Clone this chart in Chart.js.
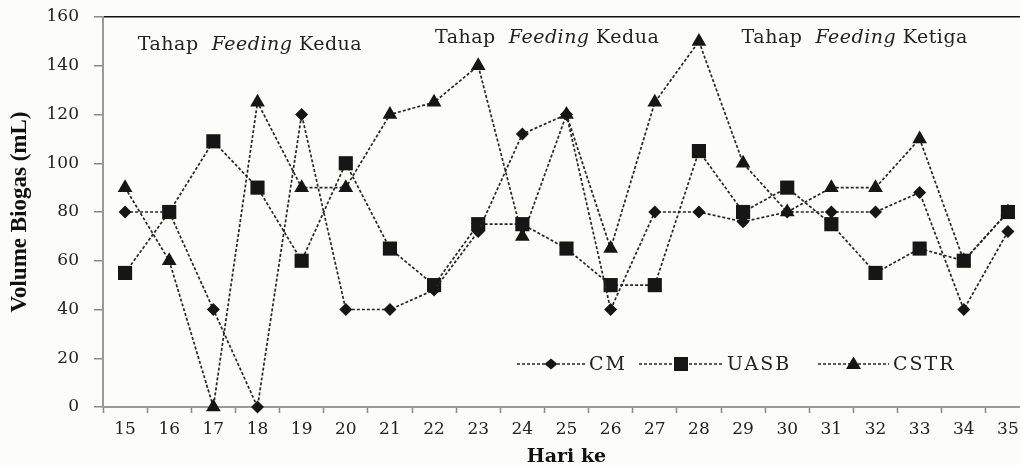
<!DOCTYPE html>
<html>
<head>
<meta charset="utf-8">
<script src="https://cdn.jsdelivr.net/npm/chart.js@4/dist/chart.umd.min.js"></script>
<style>
  html, body { margin: 0; padding: 0; background: #fcfcfa; overflow: hidden; }
  #wrap { width: 1040px; height: 465px; position: relative; }
</style>
</head>
<body>
<div id="wrap"><canvas id="chartBiogas"></canvas></div>
<script>
// data
const hari = ['15','16','17','18','19','20','21','22','23','24','25','26','27','28','29','30','31','32','33','34','35'];
const cm   = [80, 80, 40, 0, 120, 40, 40, 48, 72, 112, 120, 40, 80, 80, 76, 80, 80, 80, 88, 40, 72];
const uasb = [55, 80, 109, 90, 60, 100, 65, 50, 75, 75, 65, 50, 50, 105, 80, 90, 75, 55, 65, 60, 80];
const cstr = [90, 60, 0, 125, 90, 90, 120, 125, 140, 70, 120, 65, 125, 150, 100, 80, 90, 90, 110, 60, 80];
const yTicks = [0, 20, 40, 60, 80, 100, 120, 140, 160];

// stage labels (category index, y value)
const tahapLabel = [['Tahap  ', 'Feeding', ' Kedua'], ['Tahap  ', 'Feeding', ' Kedua'], ['Tahap  ', 'Feeding', ' Ketiga']];
const tahapPos = [[2.83, 148.5], [9.56, 151.4], [16.53, 151.4]];

const serif = '"DejaVu Serif", serif';
const ink = '#161616';

function seri(label, data, style, radius) {
  return {
    label: label,
    data: data,
    borderColor: '#262626',
    backgroundColor: ink,
    borderWidth: 1.7,
    borderDash: [3, 2],
    pointStyle: style,
    pointRadius: radius,
    pointHoverRadius: radius,
    pointBorderWidth: 0,
    pointBackgroundColor: ink,
    tension: 0,
    clip: false
  };
}

function drawMarker(ctx, style, x, y) {
  ctx.beginPath();
  if (style === 'rectRot') {
    ctx.moveTo(x, y - 5.5); ctx.lineTo(x + 6.5, y); ctx.lineTo(x, y + 5.5); ctx.lineTo(x - 6.5, y);
  } else if (style === 'rect') {
    ctx.rect(x - 7, y - 7, 14, 14);
  } else {
    ctx.moveTo(x, y - 7.5); ctx.lineTo(x + 7.5, y + 5); ctx.lineTo(x - 7.5, y + 5);
  }
  ctx.closePath();
  ctx.fill();
}

const extras = {
  id: 'extras',
  beforeDraw(chart) {
    const ctx = chart.ctx;
    ctx.save();
    ctx.fillStyle = '#fcfcfa';
    ctx.fillRect(0, 0, chart.width, chart.height);
    ctx.restore();
  },
  afterDraw(chart) {
    const ctx = chart.ctx;
    const xs = chart.scales.x, ys = chart.scales.y;
    const area = chart.chartArea;
    ctx.save();
    ctx.fillStyle = '#222';
    ctx.textBaseline = 'middle';

    // stage labels
    tahapLabel.forEach((parts, i) => {
      const fonts = ['19px ' + serif, 'italic 19px ' + serif, '19px ' + serif];
      ctx.letterSpacing = '0.5px';
      let w = 0;
      parts.forEach((p, k) => { ctx.font = fonts[k]; w += ctx.measureText(p).width; });
      let x = xs.getPixelForValue(tahapPos[i][0]) - w / 2;
      const y = ys.getPixelForValue(tahapPos[i][1]);
      parts.forEach((p, k) => {
        ctx.font = fonts[k];
        ctx.fillText(p, x, y);
        x += ctx.measureText(p).width;
      });
      ctx.letterSpacing = '0px';
    });

    // legend: dashed line with marker
    const items = [
      { ds: 0, x0: 414, x1: 482 },
      { ds: 1, x0: 536, x1: 620 },
      { ds: 2, x0: 715, x1: 786 }
    ];
    const ly = area.bottom - 43;
    items.forEach(it => {
      const ds = chart.data.datasets[it.ds];
      const a = area.left + it.x0, b = area.left + it.x1;
      ctx.strokeStyle = '#262626';
      ctx.lineWidth = 1.5;
      ctx.setLineDash([3, 2]);
      ctx.beginPath(); ctx.moveTo(a, ly); ctx.lineTo(b, ly); ctx.stroke();
      ctx.setLineDash([]);
      ctx.fillStyle = ink;
      drawMarker(ctx, ds.pointStyle, (a + b) / 2, ly);
      ctx.fillStyle = '#222';
      ctx.font = '19px ' + serif;
      ctx.letterSpacing = '2px';
      ctx.fillText(ds.label, b + 4, ly + 1);
      ctx.letterSpacing = '0px';
    });
    ctx.restore();
  }
};

new Chart(document.getElementById('chartBiogas'), {
  type: 'line',
  data: {
    labels: hari,
    datasets: [
      seri('CM', cm, 'rectRot', 6.5),
      seri('UASB', uasb, 'rect', 10),
      seri('CSTR', cstr, 'triangle', 8.5)
    ]
  },
  options: {
    responsive: true,
    maintainAspectRatio: false,
    animation: false,
    events: [],
    layout: { padding: { top: 17, right: 9, left: 0, bottom: 0 } },
    plugins: { legend: { display: false }, tooltip: { enabled: false } },
    scales: {
      x: {
        offset: true,
        grid: { offset: true, drawOnChartArea: false, tickLength: 6, tickColor: '#8a8a8a', tickWidth: 1.5 },
        border: { color: '#9a9a9a', width: 2 },
        ticks: { font: { family: serif, size: 17 }, color: '#222', padding: 6, maxRotation: 0, autoSkip: false },
        title: { display: true, text: 'Hari ke', color: '#111', font: { family: serif, size: 19, weight: 'bold', lineHeight: 1 }, padding: { top: 0, bottom: -2 } },
        afterFit: s => { s.height = 58; s.paddingLeft = 0; s.paddingRight = 0; }
      },
      y: {
        min: 0,
        max: 160,
        afterBuildTicks: s => { s.ticks = yTicks.map(v => ({ value: v })); },
        grid: {
          color: c => (c.tick && c.tick.value === 160 ? '#111' : 'transparent'),
          lineWidth: 1.5,
          tickLength: 9,
          tickColor: '#8a8a8a',
          tickWidth: 1.5
        },
        border: { color: '#9a9a9a', width: 2 },
        ticks: { font: { family: serif, size: 17 }, color: '#222', padding: 15 },
        title: { display: true, text: 'Volume Biogas (mL)', color: '#111', font: { family: '"Liberation Serif", serif', size: 23, weight: 'bold', lineHeight: 1 }, padding: { top: 9, bottom: 0 } },
        afterFit: s => { s.width = 103; s.paddingTop = 0; s.paddingBottom = 0; }
      }
    }
  },
  plugins: [extras]
});
</script>
</body>
</html>
